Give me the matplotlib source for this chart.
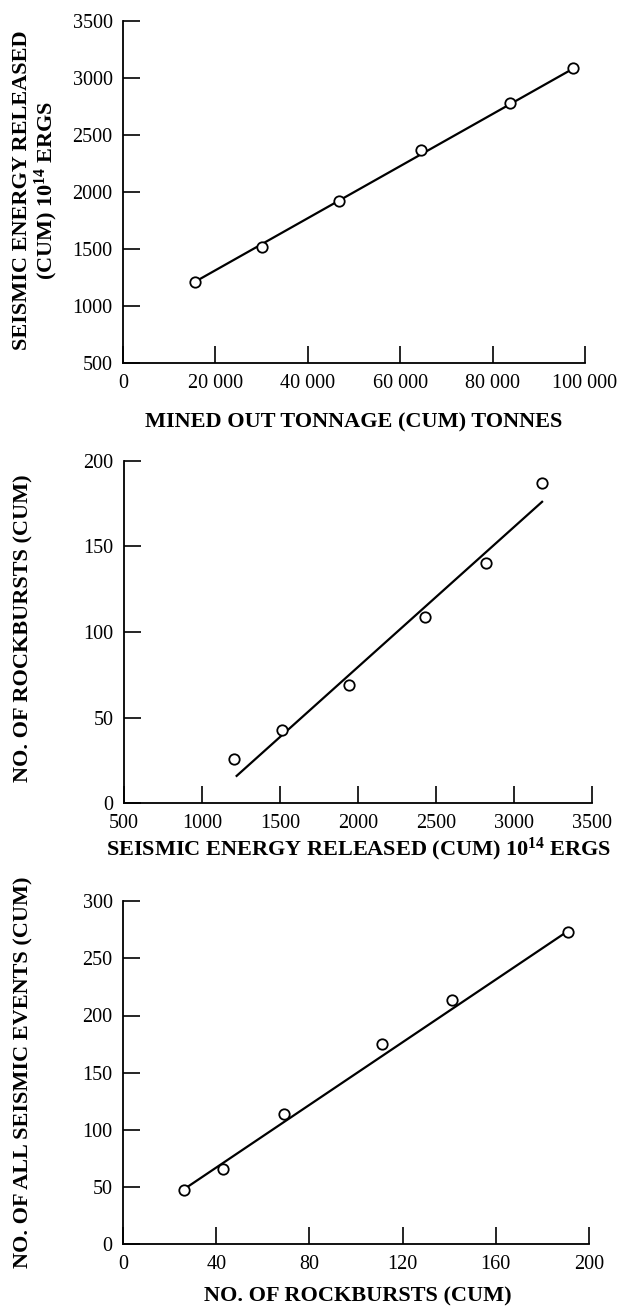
import matplotlib
matplotlib.use("Agg")
import matplotlib.pyplot as plt

plt.rcParams['font.family'] = ['Liberation Serif', 'DejaVu Serif']
plt.rcParams['mathtext.fontset'] = 'custom'
plt.rcParams['mathtext.rm'] = 'Liberation Serif'
plt.rcParams['mathtext.bf'] = 'Liberation Serif:bold'

# panel 1: tonnage vs seismic energy
tonnage = [15500, 30000, 46800, 64600, 83800, 97500]
energy = [1210, 1520, 1920, 2370, 2780, 3090]
fit1_x = [15500, 97500]
fit1_y = [1212, 3082]
tonnage_ticks = [0, 20000, 40000, 60000, 80000, 100000]
tonnage_labels = ['0', '20 000', '40 000', '60 000', '80 000', '100 000']
energy_ticks = [500, 1000, 1500, 2000, 2500, 3000, 3500]

# panel 2: seismic energy vs rockbursts
energy2 = [1205, 1513, 1944, 2432, 2820, 3179]
bursts = [26, 43, 69, 109, 140, 187]
fit2_x = [1222, 3180]
fit2_y = [16, 176]
bursts_ticks = [0, 50, 100, 150, 200]

# panel 3: rockbursts vs all seismic events
bursts3 = [26, 43, 69, 111, 141, 191]
events = [47, 66, 114, 175, 214, 273]
fit3_x = [27, 191]
fit3_y = [49, 274]
bursts3_ticks = [0, 40, 80, 120, 160, 200]
events_ticks = [0, 50, 100, 150, 200, 250, 300]

W, H = 621, 1311
fig = plt.figure(figsize=(W / 100, H / 100), dpi=100)


def make_axes(left, right, top, bottom):
    return fig.add_axes([left / W, 1 - bottom / H, (right - left) / W, (bottom - top) / H])


def style(ax):
    for s in ['top', 'right']:
        ax.spines[s].set_visible(False)
    for s in ['left', 'bottom']:
        ax.spines[s].set_linewidth(1.3)
    ax.tick_params(direction='in', length=12, width=1.2, labelsize=14.5)
    ax.tick_params(axis='y', pad=7.5)
    ax.tick_params(axis='x', pad=8)


def draw(ax, x, y, fx, fy):
    ax.plot(fx, fy, color='black', lw=1.6, zorder=2)
    ax.plot(x, y, 'o', ms=7.5, mfc='white', mec='black', mew=1.3, zorder=3, clip_on=False)


lab = dict(fontsize=16, fontweight='bold', ha='center', va='center')

# ---- panel 1
ax1 = make_axes(123, 585, 20.7, 363.3)
style(ax1)
draw(ax1, tonnage, energy, fit1_x, fit1_y)
ax1.set_xlim(0, 100000)
ax1.set_ylim(500, 3500)
ax1.set_xticks(tonnage_ticks)
ax1.set_xticklabels(tonnage_labels)
ax1.set_yticks(energy_ticks)
fig.text(354 / W, 1 - 422.7 / H, 'MINED OUT TONNAGE (CUM) TONNES', **lab)
fig.text(22 / W, 1 - 190 / H, 'SEISMIC ENERGY RELEASED', rotation=90, **lab)
fig.text(46 / W, 1 - 190 / H, '(CUM) $\\mathbf{10^{14}}$ ERGS', rotation=90, **lab)

# ---- panel 2
ax2 = make_axes(124, 592, 460.7, 803.3)
style(ax2)
draw(ax2, energy2, bursts, fit2_x, fit2_y)
ax2.set_xlim(500, 3500)
ax2.set_ylim(0, 200)
ax2.set_xticks(energy_ticks)
ax2.set_yticks(bursts_ticks)
fig.text(358 / W, 1 - 849 / H, 'SEISMIC ENERGY RELEASED (CUM) $\\mathbf{10^{14}}$ ERGS', **lab)
fig.text(23 / W, 1 - 628 / H, 'NO. OF ROCKBURSTS (CUM)', rotation=90, **lab)

# ---- panel 3
ax3 = make_axes(123, 589, 901.3, 1243.9)
style(ax3)
draw(ax3, bursts3, events, fit3_x, fit3_y)
ax3.set_xlim(0, 200)
ax3.set_ylim(0, 300)
ax3.set_xticks(bursts3_ticks)
ax3.set_yticks(events_ticks)
fig.text(358 / W, 1 - 1296 / H, 'NO. OF ROCKBURSTS (CUM)', **lab)
fig.text(23 / W, 1 - 1072 / H, 'NO. OF ALL SEISMIC EVENTS (CUM)', rotation=90, **lab)

fig.savefig('out.png', dpi=100)
